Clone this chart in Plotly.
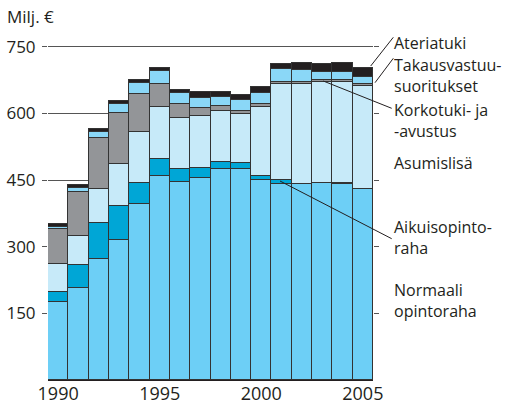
import plotly.graph_objects as go

years = list(range(1990, 2006))
normaali = [176, 206, 272, 316, 395, 459, 445, 454, 475, 475, 449, 442, 440, 443, 442, 430]
aikuis = [21, 52, 82, 75, 48, 39, 30, 23, 16, 14, 11, 9, 2, 1, 1, 0]
asumis = [63, 67, 76, 96, 114, 116, 115, 116, 115, 110, 154, 214, 223, 226, 227, 231]
korko = [79, 97, 114, 114, 87, 51, 32, 18, 10, 7, 7, 6, 5, 5, 5, 4]
takaus = [6, 11, 13, 21, 24, 30, 23, 23, 21, 23, 25, 28, 27, 19, 19, 16]
ateria = [7, 6, 7, 6, 6, 7, 8, 13, 11, 13, 14, 13, 16, 16, 20, 20]

series = [
    ("Normaali opintoraha", normaali, "#6dcff6"),
    ("Aikuisopintoraha", aikuis, "#00a6d6"),
    ("Asumislisä", asumis, "#c7eaf9"),
    ("Korkotuki- ja -avustus", korko, "#939598"),
    ("Takausvastuusuoritukset", takaus, "#8ad7f7"),
    ("Ateriatuki", ateria, "#231f20"),
]

yticks = [150, 300, 450, 600, 750]
xticks = [1990, 1995, 2000, 2005]

FONT = "Open Sans"
TXT = "#231f20"

fig = go.Figure()
for name, vals, col in series:
    fig.add_trace(go.Bar(x=years, y=vals, name=name, marker=dict(color=col, line=dict(color="#333333", width=1))))

W, H = 506, 401
ml, mr, mt, mb = 48, 133, 40, 21
pw, ph = W - ml - mr, H - mt - mb


def px2paper(px, py):
    return (px - ml) / pw, (H - mb - py) / ph


fig.update_layout(
    width=W, height=H,
    margin=dict(l=ml, r=mr, t=mt, b=mb, pad=0, autoexpand=False),
    barmode="stack", bargap=0,
    showlegend=False,
    plot_bgcolor="white", paper_bgcolor="white",
    font=dict(family=FONT, size=16, color=TXT),
    xaxis=dict(range=[1989.5, 2005.5], tickvals=xticks, showline=True, linecolor="#231f20", linewidth=1,
               ticks="", showgrid=False, zeroline=False, tickfont=dict(size=18), ticklabelstandoff=-3,
               automargin=False),
    yaxis=dict(range=[0, 765], tickvals=yticks, showgrid=True, gridcolor="#555555", gridwidth=1,
               ticks="outside", ticklen=5, tickcolor="#555555", mirror="ticks", showline=False,
               zeroline=False, tickfont=dict(size=17), ticklabelstandoff=3, automargin=False),
)

# leader lines
leaders = [
    ((370.7, 66), (393.3, 37.3)),
    ((375, 82.7), (393.3, 58.3)),
    ((323.3, 81), (391.7, 108.3)),
    ((280, 181), (391.7, 238.7)),
]
for (a, b) in leaders:
    x0, y0 = px2paper(*a)
    x1, y1 = px2paper(*b)
    fig.add_shape(type="line", xref="paper", yref="paper", x0=x0, y0=y0, x1=x1, y1=y1,
                  line=dict(color="#231f20", width=1))

labels = [
    ("Ateriatuki", 43),
    ("Takausvastuu-<br>suoritukset", 76),
    ("Korkotuki- ja<br>-avustus", 120),
    ("Asumislisä", 163.3),
    ("Aikuisopinto-<br>raha", 238),
    ("Normaali<br>opintoraha", 300),
]
for t, cy in labels:
    x, y = px2paper(392.5, cy)
    fig.add_annotation(text=t, xref="paper", yref="paper", x=x, y=y, xanchor="left", yanchor="middle",
                       align="left", showarrow=False, borderpad=0,
                       font=dict(size=16, color=TXT, family=FONT))

x, y = px2paper(6, 16.7)
fig.add_annotation(text="Milj. €", xref="paper", yref="paper", x=x, y=y, xanchor="left", yanchor="middle",
                   showarrow=False, borderpad=0, font=dict(size=17, color=TXT, family=FONT))

fig.write_html("out.html", config={"displayModeBar": False},
               post_script="document.body.style.margin='0';document.body.style.overflow='hidden';")
